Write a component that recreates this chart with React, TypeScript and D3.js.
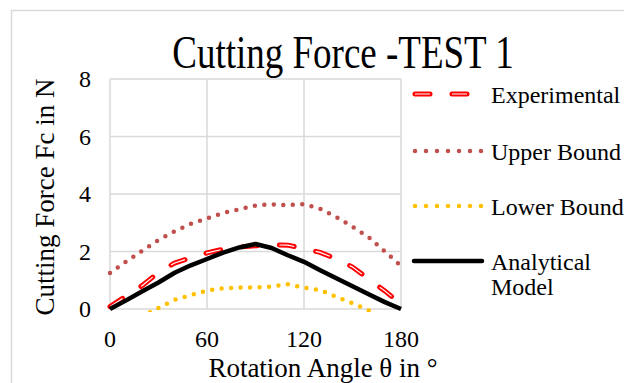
import React from "react";
import * as d3 from "d3";

const angles = [0, 10, 20, 30, 40, 50, 60, 70, 80, 90, 100, 110, 120, 130, 140, 150, 160, 170, 180];
const experimental = [0.08, 0.45, 0.82, 1.27, 1.6, 1.78, 1.95, 2.08, 2.16, 2.2, 2.23, 2.22, 2.1, 1.97, 1.74, 1.46, 1.04, 0.63, 0.17];
const upperBound = [1.25, 1.65, 2.03, 2.4, 2.7, 2.96, 3.15, 3.34, 3.47, 3.6, 3.64, 3.61, 3.65, 3.48, 3.2, 2.86, 2.5, 2.0, 1.5];
const lowerBound = [-1.0, -0.6, -0.25, 0.04, 0.32, 0.48, 0.64, 0.72, 0.75, 0.75, 0.78, 0.86, 0.74, 0.66, 0.42, 0.2, -0.05, -0.5, -1.1];
const analytical = [0, 0.3, 0.62, 0.92, 1.26, 1.52, 1.74, 1.96, 2.14, 2.26, 2.12, 1.87, 1.64, 1.35, 1.07, 0.79, 0.51, 0.24, 0];

const xTicks = [0, 60, 120, 180];
const yTicks = [0, 2, 4, 6, 8];
const seriesNames = ["Experimental", "Upper Bound", "Lower Bound", "Analytical Model"];

const W = 624;
const H = 383;
const FONT = "'Liberation Serif', 'Times New Roman', serif";
const ts = { fontFamily: FONT };

export default function App() {
  const x = d3.scaleLinear().domain([0, 180]).range([110, 401]);
  const y = d3.scaleLinear().domain([0, 8]).range([309, 79]);
  const line = (vals: number[]) =>
    d3
      .line<number>()
      .x((_, i) => x(angles[i]))
      .y((v) => y(v))(vals) as string;

  const legendY = [94, 151, 206, 261];
  const lx0 = 413;
  const lx1 = 483;

  return (
    <svg
      width={W}
      height={H}
      style={{ position: "absolute", left: 0, top: 0, background: "#fff", fontFamily: FONT }}
    >
      <rect x={0} y={0} width={W} height={H} fill="#fff" />
      <rect x={11.5} y={10.5} width={W + 20} height={H + 20} fill="none" stroke="#d9d9d9" strokeWidth={1.5} />
      <defs>
        <clipPath id="plotclip">
          <rect x={107} y={74} width={298} height={238} />
        </clipPath>
      </defs>
      <text style={ts} transform="translate(343,68) scale(1,1.25)" textAnchor="middle" fontSize={37} fill="#000">
        Cutting Force -TEST 1
      </text>
      {/* grid */}
      {yTicks.map((t) => (
        <line key={"gy" + t} x1={x(0)} x2={x(180)} y1={y(t)} y2={y(t)} stroke="#d9d9d9" strokeWidth={1.5} />
      ))}
      {xTicks.map((t) => (
        <line key={"gx" + t} x1={x(t)} x2={x(t)} y1={y(0)} y2={y(8)} stroke="#d9d9d9" strokeWidth={1.5} />
      ))}
      {/* tick labels */}
      {yTicks.map((t) => (
        <text style={ts} key={"ty" + t} x={91} y={y(t) + 8} textAnchor="end" fontSize={24} fill="#000">
          {t}
        </text>
      ))}
      {xTicks.map((t) => (
        <text style={ts} key={"tx" + t} x={x(t)} y={347} textAnchor="middle" fontSize={24} fill="#000">
          {t}
        </text>
      ))}
      <text style={ts} x={323} y={377} textAnchor="middle" fontSize={27} fill="#000">
        Rotation Angle θ in °
      </text>
      <text
        style={ts}
        transform={`translate(54,197) rotate(-90)`}
        textAnchor="middle"
        fontSize={27}
        fill="#000"
      >
        Cutting Force Fc in N
      </text>
      {/* series */}
      <g clipPath="url(#plotclip)" fill="none">
        <path d={line(upperBound)} stroke="#C0504D" strokeWidth={4.5} strokeDasharray="0 9.5" strokeLinecap="round" />
        <path d={line(lowerBound)} stroke="#FFC000" strokeWidth={4.5} strokeDasharray="0 9.5" strokeLinecap="round" />
        <path d={line(experimental)} stroke="#FF0000" strokeWidth={5} strokeDasharray="15 22" strokeLinecap="round" />
        <path d={line(experimental)} stroke="#fff" strokeWidth={1.2} strokeDasharray="15 22" strokeLinecap="butt" />
        <path d={line(analytical)} stroke="#000" strokeWidth={4.5} strokeLinejoin="round" />
      </g>
      {/* legend */}
      <g fill="none">
        <line x1={lx0 + 2} x2={lx1} y1={legendY[0]} y2={legendY[0]} stroke="#FF0000" strokeWidth={5} strokeDasharray="15 22" strokeLinecap="round" />
        <line x1={lx0 + 2} x2={lx1} y1={legendY[0]} y2={legendY[0]} stroke="#fff" strokeWidth={1.2} strokeDasharray="15 22" />
        <line x1={lx0 + 2} x2={lx1} y1={legendY[1]} y2={legendY[1]} stroke="#C0504D" strokeWidth={4.5} strokeDasharray="0 11" strokeLinecap="round" />
        <line x1={lx0 + 2} x2={lx1} y1={legendY[2]} y2={legendY[2]} stroke="#FFC000" strokeWidth={4.5} strokeDasharray="0 11" strokeLinecap="round" />
        <line x1={lx0 + 1} x2={lx1 - 1} y1={legendY[3]} y2={legendY[3]} stroke="#000" strokeWidth={4.5} strokeLinecap="round" />
      </g>
      <text style={ts} x={491} y={103} fontSize={24} fill="#000">{seriesNames[0]}</text>
      <text style={ts} x={491} y={160} fontSize={24} fill="#000">{seriesNames[1]}</text>
      <text style={ts} x={491} y={215} fontSize={24} fill="#000">{seriesNames[2]}</text>
      <text style={ts} x={491} y={270} fontSize={24} fill="#000">
        <tspan x={491}>Analytical</tspan>
        <tspan x={491} dy={25}>Model</tspan>
      </text>
    </svg>
  );
}
